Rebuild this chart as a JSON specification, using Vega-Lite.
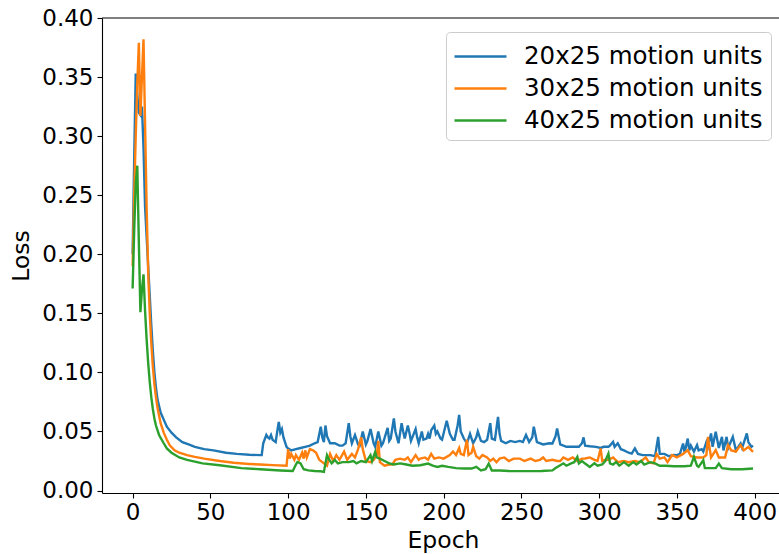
{
  "$schema": "https://vega.github.io/schema/vega-lite/v6.json",
  "width": 677,
  "height": 475,
  "autosize": {"type": "none"},
  "padding": {"left": 102, "top": 18, "right": 0, "bottom": 61},
  "background": "white",
  "config": {
    "view": {"stroke": null},
    "font": "DejaVu Sans",
    "axis": {
      "labelFont": "DejaVu Sans", "titleFont": "DejaVu Sans",
      "labelFontSize": 23, "titleFontSize": 23.5, "titleFontWeight": "normal",
      "labelColor": "black", "titleColor": "black",
      "domainColor": "black", "tickColor": "black", "domainWidth": 1.1, "tickWidth": 1.1,
      "tickSize": 5, "grid": false, "labelFlush": false, "labelOverlap": false
    },
    "legend": {
      "orient": "none", "legendX": 344, "legendY": 14, "direction": "vertical",
      "symbolType": "M-1.733,0H1.733", "symbolSize": 900, "symbolStrokeWidth": 2.4, "symbolOffset": 10,
      "labelFontSize": 24.5, "labelFont": "DejaVu Sans", "labelColor": "black", "labelOffset": 27, "labelLimit": 400,
      "padding": 8, "rowPadding": 4, "strokeColor": "#cccccc", "fillColor": "white", "cornerRadius": 4
    }
  },
  "datasets": {
    "a": [
      {"e":0,"v":0.20},{"e":1,"v":0.28},{"e":2,"v":0.353},{"e":3,"v":0.335},{"e":4,"v":0.32},{"e":5,"v":0.318},{"e":6,"v":0.325},{"e":7,"v":0.29},{"e":8,"v":0.24},{"e":9,"v":0.215},{"e":10,"v":0.19},{"e":11,"v":0.165},{"e":12,"v":0.14},{"e":13,"v":0.118},{"e":14,"v":0.1},{"e":15,"v":0.087},{"e":16,"v":0.077},{"e":18,"v":0.066},{"e":20,"v":0.06},{"e":22,"v":0.054},{"e":25,"v":0.049},{"e":28,"v":0.045},{"e":32,"v":0.041},{"e":36,"v":0.039},{"e":40,"v":0.037},{"e":46,"v":0.035},{"e":52,"v":0.034},{"e":60,"v":0.032},{"e":67,"v":0.031},{"e":75,"v":0.0303},{"e":82,"v":0.0300},{"e":83,"v":0.030},
      {"e":84,"v":0.040},{"e":86,"v":0.047},{"e":87,"v":0.045},{"e":88,"v":0.044},{"e":89,"v":0.047},{"e":90,"v":0.043},{"e":92,"v":0.041},{"e":93,"v":0.050},{"e":94,"v":0.058},{"e":95,"v":0.049},{"e":96,"v":0.052},{"e":97,"v":0.045},{"e":99,"v":0.037},{"e":100,"v":0.0356},{"e":102,"v":0.034},{"e":105,"v":0.035},{"e":108,"v":0.036},{"e":111,"v":0.037},{"e":114,"v":0.038},{"e":117,"v":0.040},{"e":119,"v":0.041},{"e":121,"v":0.054},{"e":122,"v":0.045},{"e":123,"v":0.041},{"e":124,"v":0.055},{"e":125,"v":0.046},{"e":127,"v":0.040},{"e":130,"v":0.040},{"e":133,"v":0.038},{"e":135,"v":0.038},{"e":137,"v":0.040},{"e":139,"v":0.057},{"e":140,"v":0.046},{"e":141,"v":0.040},{"e":143,"v":0.047},{"e":145,"v":0.039},{"e":146,"v":0.038},{"e":148,"v":0.050},{"e":150,"v":0.039},{"e":151,"v":0.042},{"e":153,"v":0.052},{"e":155,"v":0.040},{"e":156,"v":0.037},{"e":158,"v":0.050},{"e":160,"v":0.038},{"e":161,"v":0.040},{"e":164,"v":0.053},{"e":165,"v":0.042},{"e":166,"v":0.044},{"e":168,"v":0.061},{"e":169,"v":0.050},{"e":171,"v":0.040},{"e":173,"v":0.057},{"e":174,"v":0.050},{"e":175,"v":0.044},{"e":177,"v":0.055},{"e":178,"v":0.049},{"e":179,"v":0.042},{"e":182,"v":0.052},{"e":183,"v":0.045},{"e":184,"v":0.040},{"e":186,"v":0.050},{"e":187,"v":0.043},{"e":189,"v":0.044},
      {"e":190,"v":0.048},{"e":191,"v":0.044},{"e":192,"v":0.051},{"e":194,"v":0.055},{"e":195,"v":0.048},{"e":196,"v":0.050},{"e":198,"v":0.044},{"e":199,"v":0.043},{"e":202,"v":0.059},{"e":204,"v":0.048},{"e":206,"v":0.043},{"e":207,"v":0.043},{"e":209,"v":0.055},{"e":210,"v":0.064},{"e":211,"v":0.050},{"e":213,"v":0.044},{"e":215,"v":0.040},{"e":217,"v":0.048},{"e":219,"v":0.040},{"e":221,"v":0.045},{"e":222,"v":0.050},{"e":224,"v":0.042},{"e":226,"v":0.041},{"e":228,"v":0.043},{"e":230,"v":0.057},{"e":231,"v":0.044},{"e":233,"v":0.043},{"e":235,"v":0.0624},{"e":236,"v":0.048},{"e":237,"v":0.042},{"e":240,"v":0.040},{"e":243,"v":0.042},{"e":246,"v":0.041},{"e":249,"v":0.042},{"e":251,"v":0.041},{"e":253,"v":0.047},{"e":255,"v":0.041},{"e":257,"v":0.045},{"e":258,"v":0.054},{"e":260,"v":0.041},{"e":264,"v":0.039},{"e":268,"v":0.040},{"e":270,"v":0.0398},{"e":272,"v":0.046},{"e":273,"v":0.0525},{"e":275,"v":0.039},{"e":279,"v":0.037},{"e":283,"v":0.037},{"e":287,"v":0.037},{"e":289,"v":0.040},{"e":290,"v":0.045},{"e":291,"v":0.038},{"e":294,"v":0.0375},
      {"e":298,"v":0.037},{"e":301,"v":0.036},{"e":303,"v":0.037},{"e":306,"v":0.037},{"e":307,"v":0.038},{"e":309,"v":0.0412},{"e":310,"v":0.037},{"e":312,"v":0.040},{"e":314,"v":0.035},{"e":316,"v":0.034},{"e":319,"v":0.032},{"e":321,"v":0.0313},{"e":323,"v":0.0356},{"e":325,"v":0.031},{"e":328,"v":0.030},{"e":333,"v":0.030},{"e":336,"v":0.029},{"e":338,"v":0.0454},{"e":339,"v":0.031},{"e":342,"v":0.031},{"e":345,"v":0.029},{"e":348,"v":0.030},{"e":350,"v":0.0299},{"e":352,"v":0.031},{"e":354,"v":0.0398},{"e":355,"v":0.032},{"e":357,"v":0.044},{"e":358,"v":0.034},{"e":359,"v":0.038},{"e":361,"v":0.033},{"e":363,"v":0.0384},{"e":364,"v":0.034},{"e":366,"v":0.035},{"e":367,"v":0.033},{"e":369,"v":0.041},{"e":370,"v":0.037},{"e":372,"v":0.0483},{"e":373,"v":0.037},{"e":375,"v":0.0497},{"e":377,"v":0.036},{"e":379,"v":0.0454},{"e":380,"v":0.034},{"e":382,"v":0.0454},{"e":383,"v":0.036},{"e":386,"v":0.0454},{"e":388,"v":0.034},{"e":391,"v":0.0398},{"e":392,"v":0.036},{"e":395,"v":0.0483},{"e":396,"v":0.041},{"e":398,"v":0.037},{"e":399,"v":0.038}
    ],
    "b": [
      {"e":0,"v":0.19},{"e":1,"v":0.25},{"e":2,"v":0.30},{"e":3,"v":0.345},{"e":4,"v":0.379},{"e":5,"v":0.317},{"e":6,"v":0.35},{"e":7,"v":0.382},{"e":8,"v":0.31},{"e":9,"v":0.24},{"e":10,"v":0.185},{"e":11,"v":0.15},{"e":12,"v":0.125},{"e":13,"v":0.105},{"e":14,"v":0.09},{"e":15,"v":0.079},{"e":16,"v":0.07},{"e":18,"v":0.057},{"e":20,"v":0.049},{"e":22,"v":0.043},{"e":24,"v":0.038},{"e":27,"v":0.034},{"e":30,"v":0.032},{"e":35,"v":0.030},{"e":40,"v":0.0285},{"e":46,"v":0.027},{"e":56,"v":0.025},{"e":65,"v":0.0235},{"e":75,"v":0.0225},{"e":82,"v":0.022},{"e":90,"v":0.0215},{"e":99,"v":0.021},
      {"e":100,"v":0.035},{"e":101,"v":0.027},{"e":102,"v":0.031},{"e":104,"v":0.026},{"e":105,"v":0.030},{"e":107,"v":0.026},{"e":109,"v":0.032},{"e":110,"v":0.027},{"e":111,"v":0.034},{"e":112,"v":0.028},{"e":114,"v":0.035},{"e":116,"v":0.034},{"e":118,"v":0.032},{"e":120,"v":0.026},{"e":122,"v":0.024},{"e":124,"v":0.022},{"e":125,"v":0.021},{"e":127,"v":0.031},{"e":129,"v":0.025},{"e":131,"v":0.030},{"e":133,"v":0.026},{"e":136,"v":0.033},{"e":138,"v":0.026},{"e":141,"v":0.031},{"e":143,"v":0.028},{"e":145,"v":0.035},{"e":147,"v":0.045},{"e":148,"v":0.035},{"e":150,"v":0.025},{"e":153,"v":0.024},{"e":155,"v":0.026},{"e":157,"v":0.030},{"e":158,"v":0.042},{"e":159,"v":0.024},{"e":162,"v":0.021},{"e":165,"v":0.022},{"e":167,"v":0.022},{"e":169,"v":0.026},{"e":172,"v":0.027},{"e":175,"v":0.026},{"e":177,"v":0.028},{"e":179,"v":0.024},{"e":182,"v":0.030},{"e":184,"v":0.026},{"e":185,"v":0.027},{"e":188,"v":0.028},{"e":190,"v":0.026},{"e":192,"v":0.031},{"e":194,"v":0.027},{"e":197,"v":0.028},{"e":200,"v":0.027},{"e":204,"v":0.030},{"e":206,"v":0.033},{"e":208,"v":0.030},{"e":210,"v":0.036},{"e":211,"v":0.031},{"e":213,"v":0.030},{"e":215,"v":0.043},{"e":216,"v":0.030},{"e":218,"v":0.032},{"e":219,"v":0.037},{"e":221,"v":0.029},{"e":223,"v":0.027},{"e":225,"v":0.030},{"e":228,"v":0.028},{"e":230,"v":0.025},{"e":232,"v":0.027},{"e":234,"v":0.024},{"e":236,"v":0.027},{"e":239,"v":0.028},{"e":242,"v":0.025},{"e":245,"v":0.027},{"e":249,"v":0.027},{"e":252,"v":0.025},{"e":256,"v":0.027},{"e":259,"v":0.025},{"e":262,"v":0.026},{"e":264,"v":0.028},{"e":266,"v":0.025},{"e":270,"v":0.026},{"e":273,"v":0.025},{"e":275,"v":0.025},{"e":277,"v":0.028},{"e":280,"v":0.026},{"e":283,"v":0.028},{"e":286,"v":0.025},{"e":289,"v":0.027},{"e":291,"v":0.0271},{"e":294,"v":0.028},{"e":297,"v":0.026},{"e":299,"v":0.025},{"e":301,"v":0.0356},{"e":302,"v":0.025},{"e":304,"v":0.026},{"e":306,"v":0.026},{"e":309,"v":0.028},{"e":312,"v":0.024},{"e":316,"v":0.025},{"e":319,"v":0.024},{"e":323,"v":0.025},{"e":326,"v":0.024},{"e":330,"v":0.028},{"e":332,"v":0.024},{"e":335,"v":0.023},{"e":337,"v":0.031},{"e":339,"v":0.027},{"e":342,"v":0.028},{"e":344,"v":0.024},{"e":347,"v":0.030},{"e":350,"v":0.028},{"e":354,"v":0.031},{"e":357,"v":0.0342},{"e":359,"v":0.029},{"e":363,"v":0.028},{"e":367,"v":0.028},{"e":369,"v":0.030},{"e":370,"v":0.0454},{"e":372,"v":0.028},{"e":375,"v":0.0342},{"e":377,"v":0.028},{"e":381,"v":0.028},{"e":383,"v":0.0384},{"e":385,"v":0.034},{"e":388,"v":0.033},{"e":391,"v":0.0384},{"e":393,"v":0.034},{"e":396,"v":0.0369},{"e":398,"v":0.034},{"e":399,"v":0.0327}
    ],
    "c": [
      {"e":0,"v":0.171},{"e":1,"v":0.22},{"e":2,"v":0.26},{"e":3,"v":0.275},{"e":4,"v":0.21},{"e":5,"v":0.151},{"e":6,"v":0.17},{"e":7,"v":0.183},{"e":8,"v":0.152},{"e":9,"v":0.128},{"e":10,"v":0.108},{"e":11,"v":0.092},{"e":12,"v":0.079},{"e":13,"v":0.069},{"e":14,"v":0.061},{"e":15,"v":0.055},{"e":17,"v":0.047},{"e":20,"v":0.040},{"e":22,"v":0.0356},{"e":25,"v":0.032},{"e":30,"v":0.028},{"e":35,"v":0.026},{"e":45,"v":0.023},{"e":56,"v":0.0214},{"e":70,"v":0.019},{"e":82,"v":0.018},{"e":95,"v":0.017},{"e":103,"v":0.0166},
      {"e":105,"v":0.022},{"e":106,"v":0.0242},{"e":108,"v":0.023},{"e":110,"v":0.018},{"e":113,"v":0.017},{"e":117,"v":0.0165},{"e":121,"v":0.0163},{"e":123,"v":0.0158},{"e":125,"v":0.0299},{"e":126,"v":0.027},{"e":128,"v":0.023},{"e":130,"v":0.0258},{"e":132,"v":0.023},{"e":135,"v":0.024},{"e":139,"v":0.024},{"e":142,"v":0.025},{"e":144,"v":0.023},{"e":147,"v":0.025},{"e":150,"v":0.024},{"e":153,"v":0.0299},{"e":154,"v":0.025},{"e":156,"v":0.0328},{"e":157,"v":0.028},{"e":159,"v":0.027},{"e":162,"v":0.025},{"e":165,"v":0.023},{"e":168,"v":0.022},{"e":172,"v":0.023},{"e":176,"v":0.022},{"e":180,"v":0.021},{"e":185,"v":0.0214},{"e":190,"v":0.0228},{"e":193,"v":0.021},{"e":196,"v":0.020},{"e":199,"v":0.021},{"e":203,"v":0.020},{"e":208,"v":0.019},{"e":213,"v":0.0186},{"e":218,"v":0.0186},{"e":221,"v":0.020},{"e":224,"v":0.017},{"e":227,"v":0.018},{"e":229,"v":0.0228},{"e":231,"v":0.017},{"e":236,"v":0.017},{"e":242,"v":0.0165},{"e":249,"v":0.0164},{"e":256,"v":0.0164},{"e":263,"v":0.0165},{"e":270,"v":0.017},{"e":272,"v":0.019},{"e":275,"v":0.0214},{"e":277,"v":0.023},{"e":279,"v":0.021},{"e":282,"v":0.023},{"e":284,"v":0.024},{"e":286,"v":0.0285},{"e":287,"v":0.023},{"e":289,"v":0.025},{"e":291,"v":0.0228},{"e":294,"v":0.020},{"e":297,"v":0.023},{"e":299,"v":0.021},{"e":302,"v":0.022},{"e":304,"v":0.025},{"e":306,"v":0.0313},{"e":307,"v":0.023},{"e":309,"v":0.022},{"e":311,"v":0.0242},{"e":313,"v":0.021},{"e":316,"v":0.024},{"e":319,"v":0.021},{"e":322,"v":0.024},{"e":324,"v":0.022},{"e":327,"v":0.025},{"e":329,"v":0.022},{"e":333,"v":0.024},{"e":336,"v":0.023},{"e":339,"v":0.021},{"e":343,"v":0.021},{"e":348,"v":0.0205},{"e":355,"v":0.0205},{"e":359,"v":0.021},{"e":361,"v":0.0285},{"e":363,"v":0.021},{"e":364,"v":0.020},{"e":367,"v":0.0256},{"e":368,"v":0.019},{"e":372,"v":0.019},{"e":375,"v":0.019},{"e":377,"v":0.0228},{"e":379,"v":0.019},{"e":385,"v":0.018},{"e":392,"v":0.018},{"e":399,"v":0.0186}
    ]
  },
  "layer": [
    {
      "data": {"name": "a"},
      "mark": {"type": "line", "strokeWidth": 2.4, "clip": true},
      "encoding": {
        "x": {"field": "e", "type": "quantitative", "title": "Epoch",
              "scale": {"domain": [-19.7, 415.7], "nice": false, "zero": false},
              "axis": {"values": [0, 50, 100, 150, 200, 250, 300, 350, 400], "labelPadding": 3, "titlePadding": 4, "titleX": 341}},
        "y": {"field": "v", "type": "quantitative", "title": "Loss",
              "scale": {"domain": [-0.0021, 0.4], "nice": false, "zero": false},
              "axis": {"values": [0, 0.05, 0.1, 0.15, 0.2, 0.25, 0.3, 0.35, 0.4], "format": ".2f", "labelPadding": 4, "titlePadding": 8}},
        "color": {"datum": "20x25 motion units", "type": "nominal",
                  "scale": {"domain": ["20x25 motion units", "30x25 motion units", "40x25 motion units"], "range": ["#1f77b4", "#ff7f0e", "#2ca02c"]},
                  "legend": {"title": null}}
      }
    },
    {
      "data": {"name": "b"},
      "mark": {"type": "line", "strokeWidth": 2.4, "clip": true},
      "encoding": {
        "x": {"field": "e", "type": "quantitative"},
        "y": {"field": "v", "type": "quantitative"},
        "color": {"datum": "30x25 motion units", "type": "nominal"}
      }
    },
    {
      "data": {"name": "c"},
      "mark": {"type": "line", "strokeWidth": 2.4, "clip": true},
      "encoding": {
        "x": {"field": "e", "type": "quantitative"},
        "y": {"field": "v", "type": "quantitative"},
        "color": {"datum": "40x25 motion units", "type": "nominal"}
      }
    },
    {
      "data": {"values": [{}]},
      "mark": {"type": "rule", "color": "black", "strokeWidth": 1.1},
      "encoding": {"y": {"datum": 0.4}}
    }
  ]
}
